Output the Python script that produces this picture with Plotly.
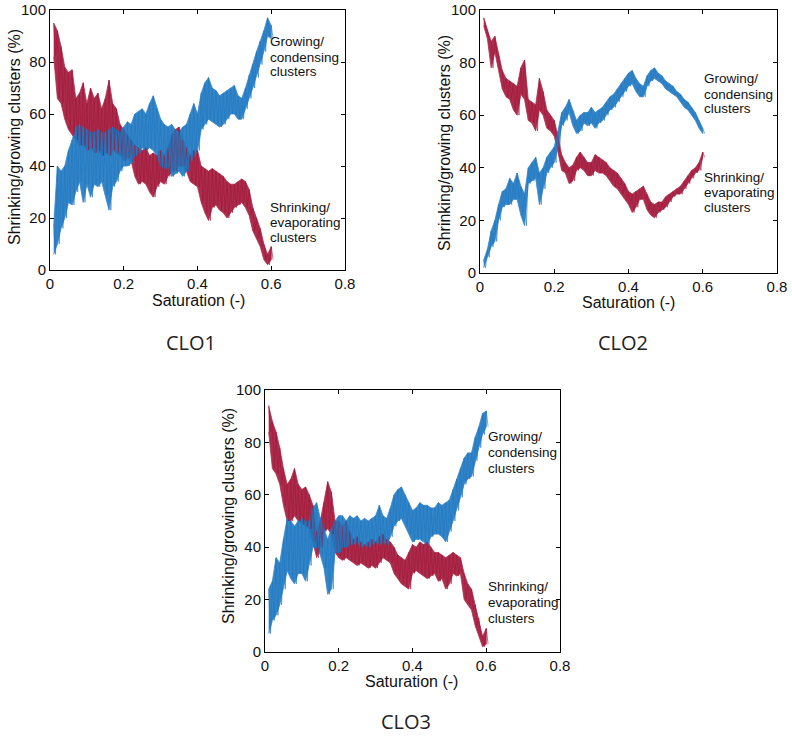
import plotly.graph_objects as go

# ---------------- data ----------------
saturation = [round(0.01 * i, 2) for i in range(1, 61)]  # 0.01 .. 0.60

# CLO1: upper / lower edge of each noisy band
clo1_shrink_hi = [95, 92, 86, 78, 76, 77, 66, 68, 72, 64, 70, 66, 68, 62, 66, 73, 64, 62, 56, 54,
                  52, 50, 48, 47, 46, 47, 44, 45, 44, 46, 44, 47, 52, 54, 55, 50, 47, 44, 46, 46,
                  40, 39, 38, 39, 38, 37, 36, 34, 33, 33, 34, 35, 34, 31, 24, 20, 16, 10, 6, 9]
clo1_shrink_lo = [82, 66, 64, 58, 54, 52, 50, 48, 48, 46, 47, 45, 46, 44, 45, 44, 46, 45, 44, 42,
                  43, 42, 36, 33, 34, 33, 30, 28, 32, 34, 33, 36, 38, 38, 40, 40, 38, 34, 33, 32,
                  26, 22, 19, 24, 25, 23, 22, 20, 22, 24, 25, 26, 24, 21, 15, 12, 9, 4, 2, 4]
clo1_grow_hi = [17, 40, 38, 40, 46, 50, 55, 56, 55, 54, 53, 53, 54, 53, 53, 54, 55, 54, 53, 55,
                57, 56, 60, 61, 62, 60, 64, 67, 62, 58, 56, 55, 56, 54, 53, 55, 56, 60, 64, 60,
                68, 72, 74, 70, 69, 67, 68, 69, 70, 71, 67, 66, 70, 75, 79, 84, 88, 92, 97, 94]
clo1_grow_lo = [6, 10, 16, 20, 26, 25, 30, 34, 26, 33, 28, 33, 32, 34, 29, 23, 32, 34, 38, 40,
                40, 41, 44, 45, 47, 46, 47, 46, 44, 40, 39, 40, 36, 37, 38, 36, 38, 42, 44, 46,
                54, 56, 58, 57, 56, 55, 56, 58, 60, 60, 58, 58, 62, 66, 70, 74, 79, 84, 90, 89]

# CLO2
clo2_shrink_hi = [97, 92, 88, 90, 83, 77, 74, 73, 72, 71, 78, 81, 66, 65, 64, 74, 69, 62, 60, 58,
                  52, 45, 42, 40, 41, 44, 46, 44, 42, 42, 45, 44, 43, 42, 40, 39, 38, 36, 34, 31,
                  30, 31, 32, 33, 30, 27, 26, 27, 27, 29, 30, 31, 32, 33, 35, 37, 39, 40, 42, 46]
clo2_shrink_lo = [94, 89, 78, 84, 77, 70, 67, 66, 62, 60, 68, 66, 58, 57, 54, 62, 60, 55, 54, 52,
                  46, 39, 38, 34, 35, 39, 40, 39, 37, 37, 39, 38, 38, 37, 35, 33, 32, 30, 28, 26,
                  23, 25, 28, 28, 24, 22, 21, 23, 24, 25, 27, 29, 30, 30, 32, 34, 36, 38, 39, 44]
clo2_grow_hi = [5, 9, 16, 20, 26, 31, 32, 36, 34, 38, 33, 30, 40, 42, 44, 38, 40, 44, 46, 48,
                54, 61, 63, 66, 62, 58, 60, 61, 61, 63, 61, 62, 63, 65, 67, 68, 70, 72, 74, 76,
                77, 74, 72, 71, 75, 77, 78, 76, 75, 73, 72, 71, 69, 68, 66, 65, 63, 61, 58, 55]
clo2_grow_lo = [2, 6, 10, 12, 20, 25, 26, 26, 28, 28, 22, 18, 34, 35, 36, 26, 32, 38, 40, 42,
                48, 56, 58, 61, 56, 53, 54, 57, 56, 57, 55, 57, 58, 60, 62, 63, 65, 67, 69, 71,
                72, 69, 67, 67, 71, 73, 74, 73, 72, 70, 69, 68, 67, 65, 63, 62, 60, 58, 55, 53]

# CLO3
clo3_shrink_hi = [94, 88, 84, 78, 70, 64, 66, 70, 64, 62, 63, 60, 56, 46, 50, 57, 65, 61, 50, 50,
                  48, 50, 46, 43, 44, 42, 41, 42, 43, 42, 44, 45, 43, 42, 40, 37, 36, 35, 38, 41,
                  40, 42, 41, 42, 40, 38, 38, 37, 36, 37, 38, 37, 36, 30, 26, 24, 18, 13, 6, 9]
clo3_shrink_lo = [84, 70, 68, 64, 56, 50, 50, 52, 50, 49, 48, 47, 42, 36, 40, 46, 47, 45, 38, 36,
                  35, 36, 35, 34, 33, 34, 33, 32, 33, 32, 34, 36, 35, 34, 30, 28, 26, 25, 24, 30,
                  31, 30, 29, 28, 29, 30, 27, 28, 24, 26, 30, 29, 30, 20, 18, 16, 10, 6, 2, 3]
clo3_grow_hi = [24, 27, 36, 34, 43, 51, 50, 48, 50, 51, 50, 50, 55, 57, 51, 47, 43, 47, 50, 52,
                52, 50, 52, 51, 52, 50, 51, 50, 51, 52, 56, 52, 51, 55, 60, 62, 63, 60, 57, 54,
                55, 57, 56, 56, 55, 55, 57, 56, 57, 58, 62, 66, 70, 74, 76, 76, 82, 86, 91, 92]
clo3_grow_lo = [7, 12, 14, 18, 24, 31, 28, 26, 30, 30, 27, 33, 40, 40, 37, 32, 22, 24, 38, 38,
                40, 40, 41, 41, 42, 40, 41, 40, 41, 42, 41, 42, 41, 44, 48, 50, 51, 48, 45, 42,
                43, 43, 42, 41, 44, 45, 45, 44, 42, 46, 50, 54, 59, 64, 66, 67, 73, 78, 83, 86]

panel_names = ["CLO1", "CLO2", "CLO3"]
x_ticks = [0, 0.2, 0.4, 0.6, 0.8]
x_tick_text = ["0", "0.2", "0.4", "0.6", "0.8"]
y_ticks = [0, 20, 40, 60, 80, 100]
x_title = "Saturation (-)"
y_title = "Shrinking/growing clusters (%)"
grow_lines = ["Growing/", "condensing", "clusters"]
shrink_lines = ["Shrinking/", "evaporating", "clusters"]

RED = "#a3173a"
BLUE = "#1f78c1"


def zigzag(xs, hi, lo):
    """Interleave the upper and lower edge so the band gets a hatched, noisy texture."""
    zx, zy = [], []
    for x, h, l in zip(xs, hi, lo):
        zx += [x, x + 0.005]
        zy += [h, l]
    return zx, zy


def band(xs, hi, lo):
    """Closed outline of the band: upper edge forward, lower edge back."""
    return list(xs) + list(xs)[::-1], list(hi) + list(lo)[::-1]


panels = [
    (clo1_shrink_hi, clo1_shrink_lo, clo1_grow_hi, clo1_grow_lo),
    (clo2_shrink_hi, clo2_shrink_lo, clo2_grow_hi, clo2_grow_lo),
    (clo3_shrink_hi, clo3_shrink_lo, clo3_grow_hi, clo3_grow_lo),
]

fig = go.Figure()
axis_ids = [("x", "y"), ("x2", "y2"), ("x3", "y3")]
for (xa, ya), (sh, sl, gh, gl), name in zip(axis_ids, panels, panel_names):
    for hi, lo, col, lab in ((sh, sl, RED, "shrinking"), (gh, gl, BLUE, "growing")):
        px_, py_ = band(saturation, hi, lo)
        fig.add_trace(go.Scatter(x=px_, y=py_, mode="lines", fill="toself", fillcolor=col,
                                 xaxis=xa, yaxis=ya, line=dict(color=col, width=0.8),
                                 opacity=0.9, name=name + " " + lab,
                                 showlegend=False, hoverinfo="skip"))
    for hi, lo, col in ((sh, sl, RED), (gh, gl, BLUE)):
        zx, zy = zigzag(saturation, hi, lo)
        fig.add_trace(go.Scatter(x=zx, y=zy, mode="lines", xaxis=xa, yaxis=ya,
                                 line=dict(color=col, width=0.7), opacity=0.9,
                                 showlegend=False, hoverinfo="skip"))

W, H = 792, 738


def fx(p):
    return p / W


def fy(p):
    return 1 - p / H


# plot areas in window pixels (left, right, top, bottom)
boxes = [(50, 345, 10, 270), (480, 777, 10, 273), (265, 560, 390, 652)]

FAM = "Liberation Sans, Arial, sans-serif"
tickfont = dict(family=FAM, size=15, color="#111")
title_font = dict(family=FAM, size=16, color="#111")
layout = dict(
    width=W, height=H, margin=dict(l=0, r=0, t=0, b=0, autoexpand=False),
    paper_bgcolor="white", plot_bgcolor="white", showlegend=False,
)
for i, (l, r, t, b) in enumerate(boxes):
    sfx = "" if i == 0 else str(i + 1)
    layout["xaxis" + sfx] = dict(
        domain=[fx(l), fx(r)], anchor="y" + sfx, range=[0, 0.8],
        tickvals=x_ticks, ticktext=x_tick_text, automargin=False,
        ticks="inside", ticklen=4, tickcolor="black", mirror="ticks",
        showline=True, linecolor="black", linewidth=1, showgrid=False, zeroline=False,
        tickfont=tickfont,
    )
    layout["yaxis" + sfx] = dict(
        domain=[fy(b), fy(t)], anchor="x" + sfx, range=[0, 100],
        tickvals=y_ticks, ticks="inside", ticklen=4, tickcolor="black", mirror="ticks",
        showline=True, linecolor="black", linewidth=1, showgrid=False, zeroline=False,
        automargin=False, tickfont=tickfont,
    )
fig.update_layout(**layout)

# axis titles (window pixels of their centres)
xtitle_pos = [(199, 300), (628, 302), (411, 681)]
ytitle_pos = [(14, 137), (444, 143), (228, 516)]
for (tx, ty), (vx, vy) in zip(xtitle_pos, ytitle_pos):
    fig.add_annotation(x=fx(tx), y=fy(ty), xref="paper", yref="paper", text=x_title,
                       showarrow=False, xanchor="center", yanchor="middle", font=title_font)
    fig.add_annotation(x=fx(vx), y=fy(vy), xref="paper", yref="paper", text=y_title,
                       showarrow=False, xanchor="center", yanchor="middle", textangle=-90,
                       font=title_font)

note_font = dict(family=FAM, size=13.5, color="#111")
# left edge, centre of first line, line spacing (window pixels)
grow_pos = [(268, 42, 15), (702, 79, 15), (486, 437, 16)]
shrink_pos = [(268, 208, 15), (702, 177, 15), (486, 586, 16)]
for (gx, gy, gs), (sx, sy, ss) in zip(grow_pos, shrink_pos):
    for k, txt in enumerate(grow_lines):
        fig.add_annotation(x=fx(gx), y=fy(gy + k * gs), xref="paper", yref="paper",
                           text=txt, showarrow=False, xanchor="left", yanchor="middle",
                           font=note_font)
    for k, txt in enumerate(shrink_lines):
        fig.add_annotation(x=fx(sx), y=fy(sy + k * ss), xref="paper", yref="paper",
                           text=txt, showarrow=False, xanchor="left", yanchor="middle",
                           font=note_font)

label_font = dict(family="Open Sans, Noto Sans, sans-serif", size=20, color="#222")
label_pos = [(191, 343), (623, 343), (406, 721)]
for name, (lx, ly) in zip(panel_names, label_pos):
    fig.add_annotation(x=fx(lx), y=fy(ly), xref="paper", yref="paper", text=name,
                       showarrow=False, xanchor="center", yanchor="middle", font=label_font)

# remove the browser's default 8px page margin so the figure sits at the window origin
fig.write_html("out.html", config={"displayModeBar": False},
               post_script="document.body.style.margin='0';document.body.style.padding='0';")
